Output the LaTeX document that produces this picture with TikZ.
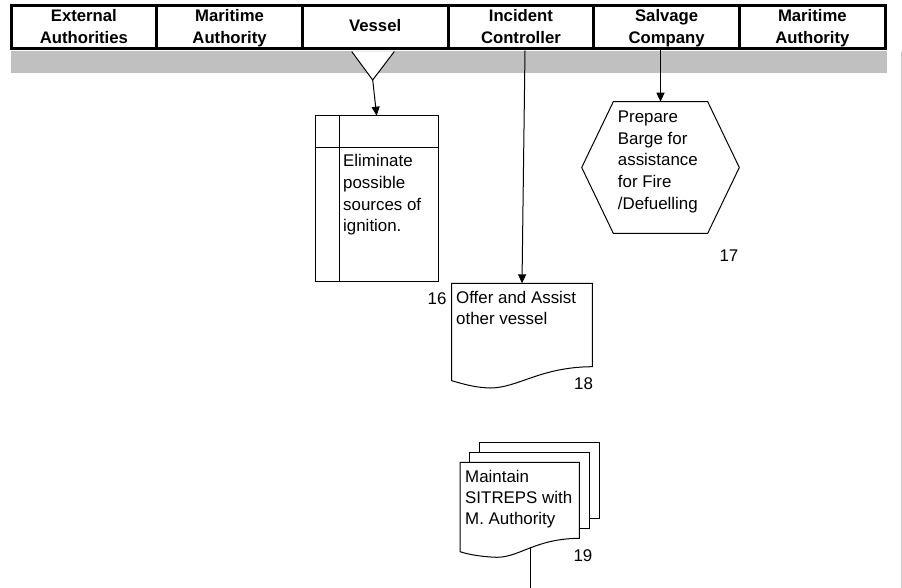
\documentclass[tikz,border=0pt]{standalone}
\usepackage{fontspec}
\setmainfont{Liberation Sans}
\usetikzlibrary{arrows.meta,calc}
\definecolor{bandgray}{RGB}{192,192,192}
\definecolor{edgegray}{RGB}{200,200,200}
\begin{document}
\begin{tikzpicture}[x=1pt,y=-1pt,
  thinline/.style={line width=1pt},
  flow/.style={line width=1pt,-{Triangle[length=9pt,width=8pt]}},
  shapebox/.style={inner sep=0pt,outer sep=0pt},
  txt/.style={font=\fontsize{16.9}{21.7}\selectfont,inner sep=0pt,align=left,anchor=north west},
  num/.style={font=\fontsize{16.9}{21.7}\selectfont,inner sep=0pt,anchor=base west},
  head/.style={font=\bfseries\fontsize{16.7}{21.7}\selectfont,inner sep=0pt,align=center,anchor=north},
]
\useasboundingbox (0,0) rectangle (902,588);

% page edge on the right
\draw[line width=1pt,edgegray] (901.5,52) -- (901.5,588);

% grey band below the lane headers
\fill[bandgray] (11,51.5) rectangle (886.5,73);

% lane headers
\draw[line width=3pt] (11,6) rectangle (885.2,49);
\foreach \x in {156.7,302.4,448,593.8,739.5}
  \draw[line width=3pt] (\x,6) -- (\x,49);
\node[head] (h1) at (83.85,6.5)  {\strut External\\Authorities};
\node[head] (h2) at (229.55,6.5) {\strut Maritime\\Authority};
\node[head] (h3) at (375.2,15.8) {\strut Vessel};
\node[head] (h4) at (520.9,6.5)  {\strut Incident\\Controller};
\node[head] (h5) at (666.65,6.5) {\strut Salvage\\Company};
\node[head] (h6) at (812.35,6.5) {\strut Maritime\\Authority};

% start marker in the Vessel lane
\fill[white] (351.7,51.5) -- (394.3,51.5) -- (372.7,80) -- cycle;
\draw[thinline] (351.7,51.5) -- (372.7,80) -- (394.3,51.5);
\coordinate (start) at (372.7,80);
\coordinate (icsrc) at (525,50.5);
\coordinate (scsrc) at (660.5,50.5);

% task 16
\node[shapebox,draw,thinline,minimum width=123.3pt,minimum height=165.3pt] (elim) at (376.65,198.35) {};
\draw[thinline] ($(elim.north west)+(24.3,0)$) -- ($(elim.south west)+(24.3,0)$);
\draw[thinline] ($(elim.north west)+(0,32)$) -- ($(elim.north east)+(0,32)$);
\node[txt] (elimtxt) at (343,151.5) {\strut Eliminate\\possible\\sources of\\ignition.};
\node[num] (n16) at (427.5,304.3) {16};

% task 17
\node[shapebox,minimum width=157.6pt,minimum height=131.6pt] (hex) at (660.5,167.5) {};
\draw[thinline] ($(hex.north west)+(31.6,0)$) -- ($(hex.north east)+(-31.6,0)$) -- (hex.east)
  -- ($(hex.south east)+(-31.6,0)$) -- ($(hex.south west)+(31.6,0)$) -- (hex.west) -- cycle;
\node[txt] (hextxt) at (617.7,107.1) {\strut Prepare\\Barge for\\assistance\\for Fire\\/Defuelling};
\node[num] (n17) at (719.3,261.7) {17};

% task 18
\node[shapebox,minimum width=140.6pt,minimum height=83.4pt] (offer) at (522,325) {};
\draw[thinline,fill=white] (offer.north west) -- (offer.north east) -- (offer.south east)
  .. controls +(-52.3,0.3) and +(28,0) .. ($(offer.south west)+(38.3,21.3)$)
  .. controls +(-15,-0.5) and +(13.3,3.8) .. ($(offer.south west)+(0,14)$) -- cycle;
\node[txt] (offertxt) at (456,287.8) {\strut Offer and Assist\\other vessel};
\node[num] (n18) at (574,389.3) {18};

% task 19 (stacked documents)
\node[shapebox,draw,thinline,fill=white,minimum width=120pt,minimum height=76pt] (sit3) at (539,480.3) {};
\node[shapebox,draw,thinline,fill=white,minimum width=119.7pt,minimum height=76pt] (sit2) at (529.15,490.3) {};
\node[shapebox,minimum width=119.3pt,minimum height=76pt] (sit) at (519.65,500.3) {};
\draw[thinline,fill=white] (sit.north west) -- (sit.north east) -- (sit.south east)
  .. controls +(-44,0.3) and +(23,0) .. coordinate[pos=0.5] (sitout) ($(sit.south west)+(36.7,19)$)
  .. controls +(-13,-0.5) and +(11,3.5) .. ($(sit.south west)+(0,13.4)$) -- cycle;
\node[txt,font=\fontsize{16.9}{20.7}\selectfont] (sittxt) at (465,468.2) {\strut Maintain\\SITREPS with\\M. Authority};
\node[num] (n19) at (573.3,561.7) {19};
\coordinate (pageend) at (0,590);

% connectors
\draw[flow] (start) -- (elim.north);
\draw[flow] (icsrc) -- (offer.north);
\draw[flow] (scsrc) -- (hex.north);
\draw[thinline] (sitout) -- (sitout |- pageend);
\end{tikzpicture}
\end{document}
